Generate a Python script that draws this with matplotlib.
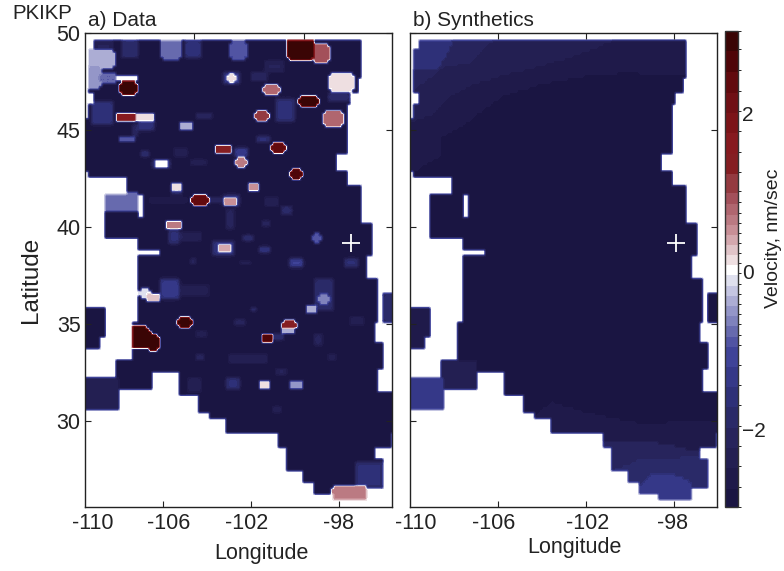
import numpy as np
import matplotlib
matplotlib.use("Agg")
import matplotlib.pyplot as plt
from matplotlib.colors import ListedColormap, BoundaryNorm

plt.rcParams['font.family'] = ['Liberation Sans', 'DejaVu Sans']

# colour scale: level edges (nm/sec) and the colour of each level
LEVELS = [-2.97, -2.72, -2.46, -2.20, -1.95, -1.69, -1.43, -1.18, -0.92, -0.80, -0.66,
          -0.53, -0.41, -0.28, -0.15, -0.02, 0.11, 0.24, 0.36, 0.49, 0.62, 0.75, 0.88,
          1.02, 1.27, 1.52, 1.78, 2.04, 2.29, 2.56, 2.82, 3.05]
LEVEL_COLORS = ['#1a1542', '#1f1a4a', '#231f52', '#27245c', '#2a2a68', '#2e3078', '#353888',
                '#3f4398', '#5154a3', '#676aae', '#7f82bc', '#9496c8', '#acadd4', '#c5c6e2',
                '#dfe0ee', '#ffffff', '#eedfe1', '#e0c4c8', '#d4a8ae', '#c88f96', '#bb7a82',
                '#b0666f', '#a3505a', '#943a40', '#851e22', '#871a1f', '#7c1418', '#701015',
                '#620a0e', '#4f0508', '#3a0505']

BASE_VALUE = -2.85
BLANK_VALUE = 0.05
SOFT_LIMIT = -1.0
STATION_LON = -97.9
STATION_LAT = 39.15

# array footprint: lon_w, lon_e, lat_s, lat_n
FOOTPRINT = [
    (-109.61, -97.41, 49.12, 49.64), (-109.88, -97.41, 47.66, 49.12),
    (-109.88, -97.64, 46.89, 47.66), (-109.61, -97.94, 46.37, 46.89),
    (-109.88, -98.14, 45.51, 46.37), (-110.3, -98.14, 43.79, 45.51),
    (-110.3, -98.62, 42.93, 43.79), (-109.88, -98.14, 42.50, 42.93),
    (-108.09, -98.14, 42.16, 42.50), (-108.09, -97.41, 41.73, 42.16),
    (-107.38, -97.41, 40.18, 41.73), (-109.12, -107.55, 39.41, 41.73),
    (-107.56, -107.38, 39.41, 40.44),
    (-107.38, -96.91, 39.41, 40.18), (-107.56, -96.91, 38.89, 39.41),
    (-106.58, -96.91, 38.51, 38.89), (-107.61, -97.18, 37.25, 38.51),
    (-107.61, -96.68, 35.02, 37.25), (-107.87, -96.88, 34.07, 35.02),
    (-107.87, -96.43, 33.16, 34.07), (-108.62, -96.43, 32.61, 33.16),
    (-108.62, -96.68, 32.52, 32.61), (-108.62, -107.0, 31.58, 32.52),
    (-105.67, -96.68, 31.41, 32.52), (-105.67, -95.9, 31.32, 31.41),
    (-104.84, -95.9, 30.37, 31.32), (-104.38, -95.9, 30.12, 30.37),
    (-103.59, -95.9, 29.38, 30.12), (-101.27, -96.12, 28.65, 29.38),
    (-100.79, -96.88, 27.97, 28.65), (-100.79, -96.43, 27.45, 27.97),
    (-100.03, -96.43, 26.76, 27.45), (-99.53, -96.43, 26.50, 26.76),
    (-99.53, -97.21, 26.28, 26.50), (-98.77, -97.21, 25.87, 26.28),
    (-96.50, -95.9, 35.02, 36.57), (-110.3, -109.03, 34.25, 35.79),
    (-110.3, -109.31, 33.73, 34.25), (-110.3, -108.52, 30.63, 32.18),
]

# data panel: lon_w, lon_e, lat_s, lat_n, velocity; later entries paint over earlier ones
DATA_PATCHES = [
    (-109.61, -108.70, 48.87, 49.55, -2.2), (-108.32, -107.64, 48.69, 49.55, -1.7),
    (-106.50, -105.59, 48.69, 49.64, -0.7), (-105.52, -104.68, 48.78, 49.55, -1.5),
    (-103.43, -102.67, 48.61, 49.55, -0.9), (-99.61, -98.93, 48.52, 49.47, 0.9),
    (-100.82, -99.61, 48.61, 49.64, 3.0), (-109.88, -108.70, 48.18, 49.04, -0.35),
    (-109.88, -109.31, 47.14, 48.18, -0.5), (-109.31, -108.55, 47.40, 47.83, -0.8),
    (-109.76, -108.70, 45.34, 46.54, -1.5), (-108.55, -107.64, 47.52, 47.80, 0.05),
    (-108.43, -107.64, 46.89, 47.49, 2.9), (-103.77, -102.94, 47.40, 48.00, -1.3),
    (-103.55, -103.09, 47.49, 47.83, 0.15), (-102.49, -101.73, 47.57, 48.00, -2.0),
    (-101.80, -100.97, 48.00, 48.52, -2.2), (-101.88, -101.12, 46.89, 47.23, 0.8),
    (-100.29, -99.46, 46.20, 46.66, 2.9), (-98.85, -97.79, 46.97, 47.83, 0.15),
    (-98.93, -97.94, 46.46, 46.97, -1.8), (-101.28, -100.52, 45.42, 46.63, -1.6),
    (-99.15, -98.24, 45.25, 45.94, 0.8), (-107.64, -106.88, 45.00, 45.51, -1.5),
    (-108.58, -107.64, 45.51, 45.86, 1.6), (-107.64, -106.88, 45.51, 45.86, 0.2),
    (-102.26, -101.65, 45.55, 45.98, 1.2), (-105.67, -105.14, 45.05, 45.34, -0.3),
    (-104.91, -104.23, 45.60, 45.91, -2.0), (-107.79, -107.56, 44.65, 45.25, -1.9),
    (-108.40, -107.79, 44.39, 44.65, -0.9), (-107.49, -107.11, 43.62, 43.96, -1.5),
    (-106.96, -106.12, 43.05, 43.45, -1.8), (-106.81, -106.27, 43.15, 43.33, 0.05),
    (-105.90, -105.37, 43.62, 44.13, -2.3), (-105.21, -104.45, 43.10, 43.53, -2.3),
    (-104.08, -103.40, 43.79, 44.13, 1.5), (-101.50, -100.85, 43.79, 44.25, 2.3),
    (-102.26, -101.65, 44.36, 44.65, -1.5), (-103.21, -102.64, 43.62, 44.13, -1.2),
    (-103.17, -102.68, 43.05, 43.62, 0.7), (-100.59, -100.09, 42.54, 42.97, 2.8),
    (-106.12, -105.59, 41.73, 42.33, -1.6), (-106.00, -105.67, 41.85, 42.19, 0.15),
    (-102.59, -102.03, 41.81, 42.33, -1.6), (-102.49, -102.11, 41.90, 42.24, 0.5),
    (-104.46, -103.55, 41.21, 41.47, -2.0), (-107.03, -105.37, 41.21, 41.55, -2.5),
    (-105.21, -104.46, 41.21, 41.55, 2.4), (-103.73, -103.02, 41.04, 41.60, -1.6),
    (-103.59, -103.12, 41.12, 41.47, 0.6), (-109.12, -107.55, 40.78, 41.73, -0.75),
    (-103.55, -103.17, 39.92, 40.87, -2.1), (-101.88, -101.27, 41.12, 41.47, -2.2),
    (-101.05, -100.59, 40.61, 41.04, -1.8), (-101.96, -101.61, 40.00, 40.30, -2.0),
    (-106.20, -105.67, 39.06, 39.92, -1.6), (-105.67, -104.76, 39.32, 39.66, -2.2),
    (-106.24, -105.67, 39.92, 40.26, 0.7), (-104.15, -103.24, 38.55, 39.23, -1.5),
    (-103.85, -103.43, 38.72, 39.06, 0.4), (-102.11, -101.65, 38.72, 39.03, -1.3),
    (-102.79, -102.33, 39.23, 39.58, -1.7), (-99.68, -99.30, 39.23, 39.58, -0.9),
    (-100.67, -100.14, 37.99, 38.37, -1.1), (-98.17, -97.56, 37.99, 38.37, -1.6),
    (-105.21, -104.91, 38.06, 38.34, -2.0), (-103.02, -102.41, 38.03, 38.29, -2.1),
    (-106.58, -105.67, 36.22, 37.25, -1.3), (-107.49, -107.0, 36.40, 36.74, -0.1),
    (-107.1, -106.65, 36.14, 36.50, 0.3),
    (-105.67, -104.30, 36.48, 36.98, -2.4), (-105.82, -105.18, 34.81, 35.24, 2.9),
    (-107.87, -107.18, 33.73, 34.81, 2.9), (-107.18, -106.65, 33.64, 34.33, 2.9),
    (-107.45, -106.85, 33.75, 34.55, 2.9),
    (-102.41, -102.18, 35.62, 35.88, -1.2), (-103.17, -102.71, 34.85, 35.19, -2.0),
    (-99.61, -98.70, 35.71, 37.25, -1.8), (-99.34, -98.88, 36.09, 36.57, -0.6),
    (-99.91, -99.53, 35.64, 35.84, -0.4), (-97.94, -97.33, 34.93, 35.36, -2.3),
    (-99.61, -99.23, 33.90, 34.42, -2.1), (-101.43, -100.97, 34.16, 34.50, -1.6),
    (-100.97, -100.37, 34.76, 35.19, 1.4), (-101.05, -100.52, 34.55, 34.76, -0.4),
    (-101.96, -101.50, 34.16, 34.45, 2.6), (-104.91, -104.61, 33.09, 33.47, -2.0),
    (-103.47, -101.73, 32.95, 33.38, -2.2), (-98.93, -98.55, 33.13, 33.44, -2.2),
    (-101.28, -100.90, 32.44, 32.70, -2.1), (-104.91, -104.46, 34.33, 34.59, -2.2),
    (-103.62, -103.02, 31.66, 32.18, -1.6), (-102.03, -101.70, 31.66, 32.01, 0.2),
    (-100.67, -100.18, 31.66, 32.04, -0.5), (-101.50, -101.12, 30.46, 30.75, -2.1),
    (-105.37, -104.76, 31.49, 32.18, -2.3), (-97.71, -96.50, 26.50, 27.93, -1.6),
    (-98.77, -97.21, 25.87, 26.59, 0.65), (-96.50, -95.9, 35.02, 36.57, -1.8),
    (-110.3, -108.52, 30.63, 32.18, -2.35),
]

# synthetics panel: contours of the smooth field, north edge and south edge
NORTH_LEVELS = [-2.6, -2.33, -2.07, -1.5]
NORTH_LON = [
    [-109.91, -108.62, -108.55, -107.79, -106.73, -105.67, -104.15, -101.73, -100.21, -97.64],
    [-109.91, -109.0, -108.25, -107.19, -105.67, -104.15, -102.34, -100.82, -100.5],
    [-109.91, -109.31, -108.55, -107.19, -106.43, -106.12, -105.9],
    [-109.76, -108.70, -108.25, -108.02, -107.8],
]
NORTH_LAT = [
    [42.76, 43.62, 44.65, 45.08, 45.94, 46.80, 47.32, 47.83, 47.92, 47.83],
    [45.42, 45.77, 46.71, 47.32, 47.83, 48.26, 48.87, 49.55, 51.0],
    [46.97, 47.49, 48.18, 48.52, 49.38, 49.64, 51.0],
    [48.09, 48.18, 49.04, 49.64, 51.0],
]
SOUTH_LEVELS = [-2.6, -2.1, -1.8, -1.35]
SOUTH_LON = [
    [-104.38, -103.55, -102.34, -100.82, -99.0, -97.64, -96.05],
    [-101.27, -100.52, -99.0, -97.79, -97.03],
    [-100.79, -99.61, -98.39, -97.18, -96.43],
    [-99.53, -99.0, -98.24, -97.64, -97.18, -97.1],
]
SOUTH_LAT = [
    [30.20, 30.98, 30.55, 30.12, 29.77, 30.03, 30.03],
    [28.91, 28.91, 28.91, 28.65, 28.40],
    [27.45, 27.97, 28.05, 28.14, 28.05],
    [26.68, 27.28, 27.28, 27.11, 26.76, 25.0],
]
SYNTH_PATCHES = [
    (-108.62, -107.0, 31.58, 33.16, -2.45), (-110.3, -108.52, 30.63, 32.18, -1.35),
    (-110.3, -109.03, 33.73, 35.79, -2.5),
]

# axis ticks and labels; the printed labels sit off the tick marks in the figure
LON_NAMES = ['-110', '-106', '-102', '-98']
DATA_LABEL_LONS = [-109.62, -106.17, -102.62, -98.49]
SYNTH_LABEL_LONS = [-109.73, -106.17, -101.90, -98.08]
LAT_TICKS = [30, 35, 40, 45, 50]
DATA_BOTTOM_TICKS = [-106.43, -102.43, -98.43]
DATA_TOP_TICKS = [-105.02, -100.05]
SYNTH_TICKS = [-106, -102, -98]
CBAR_TICKS = [-2, 0, 2]

lon_c = np.arange(-110.4, -95.8, 0.125)
lat_c = np.arange(25.4, 50.2, 0.15)
lon_g, lat_g = np.meshgrid(lon_c, lat_c)


def paint(grid, patches, strong=False):
    # fill the map cells inside each rectangle, strong ones a bit wider with clipped corners
    grow_lon = 0.06 if strong else 0.0
    grow_lat = 0.07 if strong else 0.0
    for lon_w, lon_e, lat_s, lat_n, val in patches:
        mask = ((lon_g >= lon_w - grow_lon) & (lon_g <= lon_e + grow_lon)
                & (lat_g >= lat_s - grow_lat) & (lat_g <= lat_n + grow_lat))
        if strong:
            rows = np.where(mask.any(axis=1))[0]
            cols = np.where(mask.any(axis=0))[0]
            if len(rows) >= 4 and len(cols) >= 4:
                for r in (rows[0], rows[-1]):
                    for c in (cols[0], cols[-1]):
                        mask[r, c] = False
        grid[mask] = val


def soften(grid):
    # light 1-6-1 pass along both directions, rounds off the faint blue patches
    out = grid.copy()
    out[1:-1, :] = (grid[:-2, :] + 6 * grid[1:-1, :] + grid[2:, :]) / 8
    res = out.copy()
    res[:, 1:-1] = (out[:, :-2] + 6 * out[:, 1:-1] + out[:, 2:]) / 8
    return res


inside = np.zeros(lon_g.shape, dtype=bool)
for lon_w, lon_e, lat_s, lat_n in FOOTPRINT:
    inside |= (lon_g >= lon_w) & (lon_g <= lon_e) & (lat_g >= lat_s) & (lat_g <= lat_n)

# data map: faint blue patches first, the strong anomalies on top
data_map = np.full(lon_g.shape, BASE_VALUE)
paint(data_map, [p for p in DATA_PATCHES if p[4] < SOFT_LIMIT])
data_map = soften(data_map)
paint(data_map, [p for p in DATA_PATCHES if p[4] >= SOFT_LIMIT], strong=True)
data_map[~inside] = BLANK_VALUE

# synthetics map
synth_map = np.full(lon_g.shape, BASE_VALUE)
for val, lons, lats in zip(NORTH_LEVELS, NORTH_LON, NORTH_LAT):
    synth_map[lat_g >= np.interp(lon_g, lons, lats)] = val
for val, lons, lats in zip(SOUTH_LEVELS, SOUTH_LON, SOUTH_LAT):
    synth_map[lat_g <= np.interp(lon_g, lons, lats)] = val
paint(synth_map, SYNTH_PATCHES)
synth_map[~inside] = BLANK_VALUE

W, H = 784.0, 571.0
fig = plt.figure(figsize=(W / 100, H / 100), dpi=100)
ax_a = fig.add_axes([84.7 / W, 1 - 507 / H, 307 / W, 474 / H])
ax_b = fig.add_axes([409.7 / W, 1 - 507 / H, 307 / W, 474 / H])
cax = fig.add_axes([725 / W, 1 - 506.5 / H, 13 / W, 475.5 / H])

cmap = ListedColormap(LEVEL_COLORS)
norm = BoundaryNorm(LEVELS, cmap.N)
extent = [lon_c[0] - 0.0625, lon_c[-1] + 0.0625, lat_c[0] - 0.075, lat_c[-1] + 0.075]

for ax, grid in [(ax_a, data_map), (ax_b, synth_map)]:
    im = ax.imshow(grid, origin='lower', extent=extent, cmap=cmap, norm=norm, aspect='auto',
                   interpolation='bilinear', interpolation_stage='data')
    ax.plot([STATION_LON], [STATION_LAT], marker='+', color='white', ms=13, mew=1.3)
    ax.set_xlim(-110, -96.05)
    ax.set_ylim(25.55, 50)
    ax.set_yticks(LAT_TICKS)
    for sp in ax.spines.values():
        sp.set_linewidth(1.0)
        sp.set_color('#222222')
    ax.tick_params(direction='in', length=4, width=0.8, color='#222222', labelsize=15.5,
                   labelcolor='#222222', left=True, right=True, bottom=True, pad=3)

# panel a: tick marks and tick labels do not line up on the bottom axis
ax_a.set_xticks(DATA_BOTTOM_TICKS, labels=[''] * 3)
ax_a.set_xticks(DATA_LABEL_LONS, labels=LON_NAMES, minor=True)
ax_a.tick_params(axis='x', which='minor', length=0, labelsize=15.5, labelcolor='#222222', pad=4)
top_a = ax_a.secondary_xaxis('top')
top_a.set_xticks(DATA_TOP_TICKS, labels=['', ''])
top_a.tick_params(direction='in', length=4, width=0.8, color='#222222')
top_a.spines['top'].set_visible(False)

# panel b
ax_b.set_xticks(SYNTH_TICKS, labels=[''] * 3)
ax_b.set_xticks(SYNTH_LABEL_LONS, labels=LON_NAMES, minor=True)
ax_b.tick_params(axis='x', which='major', top=True)
ax_b.tick_params(axis='x', which='minor', length=0, labelsize=15.5, labelcolor='#222222', pad=4)
ax_b.tick_params(axis='y', labelleft=False)

cb = fig.colorbar(im, cax=cax, spacing='proportional', ticks=CBAR_TICKS)
cb.ax.tick_params(length=0, labelsize=15, labelcolor='#222222', pad=3)
cb.outline.set_linewidth(1.0)
cb.outline.set_edgecolor('#333333')
cb.dividers.set_visible(False)
cb.solids.set_edgecolor('face')

fig.text(12.5 / W, 1 - 13.5 / H, 'PKIKP', fontsize=14.7, va='center', color='#222222')
fig.text(88 / W, 1 - 20 / H, 'a) Data', fontsize=15, va='center', color='#222222')
fig.text(413 / W, 1 - 20 / H, 'b) Synthetics', fontsize=15, va='center', color='#222222')
fig.text(261 / W, 1 - 553 / H, 'Longitude', fontsize=15.5, ha='center', va='center', color='#222222')
fig.text(574.5 / W, 1 - 548 / H, 'Longitude', fontsize=15.5, ha='center', va='center', color='#222222')
fig.text(31 / W, 1 - 280 / H, 'Latitude', fontsize=17.5, rotation=90, ha='center', va='center', color='#222222')
fig.text(773 / W, 1 - 238 / H, 'Velocity, nm/sec', fontsize=14, rotation=90, ha='center', va='center', color='#222222')

fig.savefig('out.png', dpi=100)
